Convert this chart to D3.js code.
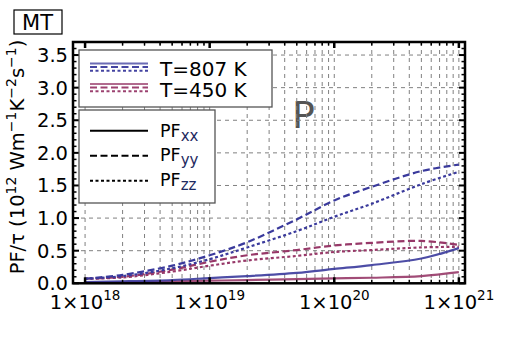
<!DOCTYPE html>
<html>
<head>
<meta charset="utf-8">
<script src="https://cdn.jsdelivr.net/npm/d3@7"></script>
<style>
  body { margin: 0; background: #fff; }
  text { font-family: "DejaVu Sans", sans-serif; }
</style>
</head>
<body>
<svg id="chart" width="525" height="350"></svg>
<script>
// carrier density (cm^-3)
const density = [1e18, 2e18, 5e18, 1e19, 2e19, 5e19, 1e20, 2e20, 5e20, 1e21]

// PF/tau, T = 807 K
const pf807_xx = [0.02, 0.03, 0.05, 0.08, 0.11, 0.16, 0.22, 0.28, 0.38, 0.54]
const pf807_yy = [0.07, 0.13, 0.27, 0.43, 0.63, 0.98, 1.27, 1.48, 1.72, 1.82]
const pf807_zz = [0.07, 0.11, 0.23, 0.37, 0.55, 0.80, 1.02, 1.22, 1.52, 1.71]

// PF/tau, T = 450 K
const pf450_xx = [0.01, 0.015, 0.03, 0.04, 0.05, 0.065, 0.075, 0.085, 0.11, 0.17]
const pf450_yy = [0.07, 0.10, 0.21, 0.33, 0.43, 0.51, 0.58, 0.62, 0.65, 0.59]
const pf450_zz = [0.07, 0.09, 0.18, 0.27, 0.35, 0.42, 0.48, 0.51, 0.55, 0.56]

const y_ticks = [0, 0.5, 1.0, 1.5, 2.0, 2.5, 3.0, 3.5]
const x_decades = [18, 19, 20, 21]

const temp_labels = ['T=807 K', 'T=450 K']
const comp_labels = ['xx', 'yy', 'zz']

const blue = '#3a3a9c'
const plum = '#973868'
const dash_style = { xx: null, yy: '7,3.5', zz: '3,2.5' }

const svg = d3.select('#chart')
const pl = 73, pr = 465, pt = 42, pb = 283.3

const x = d3.scaleLog().domain([8.0e17, 1.12e21]).range([pl, pr])
const y = d3.scaleLinear().domain([0, 3.7]).range([pb, pt])

// minor + major x positions
let x_grid = []
for (let k = 18; k <= 20; k++) {
  for (let m = 1; m <= 9; m++) x_grid.push(m * Math.pow(10, k))
}
x_grid.push(1e21)

// big P label (behind grid)
svg.append('text')
  .attr('x', 292).attr('y', 128)
  .attr('font-size', 38)
  .attr('fill', '#555')
  .text('P')

// grid
const grid = svg.append('g').attr('stroke', '#808080').attr('stroke-width', 1)
  .attr('stroke-dasharray', '4,4')
grid.selectAll('.gx').data(x_grid).join('line')
  .attr('x1', d => x(d)).attr('x2', d => x(d))
  .attr('y1', pt).attr('y2', pb)
grid.selectAll('.gy').data(y_ticks.slice(1)).join('line')
  .attr('x1', pl).attr('x2', pr)
  .attr('y1', d => y(d)).attr('y2', d => y(d))

// curves
svg.append('clipPath').attr('id', 'clip')
  .append('rect').attr('x', pl).attr('y', pt)
  .attr('width', pr - pl).attr('height', pb - pt)

const line = d3.line()
  .x((d, i) => x(density[i]))
  .y(d => y(d))
  .curve(d3.curveCatmullRom.alpha(0.5))

const series = [
  { vals: pf450_xx, color: plum, comp: 'xx' },
  { vals: pf450_zz, color: plum, comp: 'zz' },
  { vals: pf450_yy, color: plum, comp: 'yy' },
  { vals: pf807_xx, color: blue, comp: 'xx' },
  { vals: pf807_zz, color: blue, comp: 'zz' },
  { vals: pf807_yy, color: blue, comp: 'yy' }
]

const curves = svg.append('g').attr('clip-path', 'url(#clip)')
series.forEach(s => {
  curves.append('path')
    .attr('d', line(s.vals))
    .attr('fill', 'none')
    .attr('stroke', s.color)
    .attr('stroke-width', 2.2)
    .attr('stroke-opacity', s.comp == 'xx' ? 0.9 : 1)
    .attr('stroke-dasharray', dash_style[s.comp])
})

// axes ticks (inward)
const axes = svg.append('g').attr('stroke', '#000')
let y_minor = d3.range(0, 37).map(i => i / 10)
y_minor.forEach(v => {
  let major = Math.abs(v * 2 - Math.round(v * 2)) < 1e-6
  let len = major ? 6 : 3.5
  axes.append('line').attr('x1', pl).attr('x2', pl + len)
    .attr('y1', y(v)).attr('y2', y(v)).attr('stroke-width', major ? 2 : 1.5)
  axes.append('line').attr('x1', pr).attr('x2', pr - len)
    .attr('y1', y(v)).attr('y2', y(v)).attr('stroke-width', major ? 2 : 1.5)
})
x_grid.forEach(v => {
  let major = Math.abs(Math.log10(v) - Math.round(Math.log10(v))) < 1e-6
  let len = major ? 6 : 3.5
  axes.append('line').attr('x1', x(v)).attr('x2', x(v))
    .attr('y1', pb).attr('y2', pb - len).attr('stroke-width', major ? 2.5 : 1.5)
  axes.append('line').attr('x1', x(v)).attr('x2', x(v))
    .attr('y1', pt).attr('y2', pt + len).attr('stroke-width', major ? 2.5 : 1.5)
})

// frame
svg.append('rect')
  .attr('x', pl).attr('y', pt)
  .attr('width', pr - pl).attr('height', pb - pt)
  .attr('fill', 'none').attr('stroke', '#000').attr('stroke-width', 2.5)

// tick labels
svg.selectAll('.ylab').data(y_ticks).join('text')
  .attr('x', 68).attr('y', d => y(d) + 7)
  .attr('text-anchor', 'end')
  .attr('font-size', 19.5)
  .text(d => d.toFixed(1))

x_decades.forEach(k => {
  let t = svg.append('text')
    .attr('x', x(Math.pow(10, k))).attr('y', 308.5)
    .attr('text-anchor', 'middle')
    .attr('font-size', 19.5)
  t.append('tspan').text('1×10')
  t.append('tspan').attr('dy', -9).attr('font-size', 13.5).text(k)
})

// y axis title
const yt = svg.append('text')
  .attr('transform', 'translate(24,157) rotate(-90)')
  .attr('text-anchor', 'middle')
  .attr('font-size', 19.5)
yt.append('tspan').text('PF/τ (10')
yt.append('tspan').attr('dy', -8).attr('font-size', 14).text('12')
yt.append('tspan').attr('dy', 8).text(' Wm')
yt.append('tspan').attr('dy', -8).attr('font-size', 14).text('−1')
yt.append('tspan').attr('dy', 8).text('K')
yt.append('tspan').attr('dy', -8).attr('font-size', 14).text('−2')
yt.append('tspan').attr('dy', 8).text('s')
yt.append('tspan').attr('dy', -8).attr('font-size', 14).text('−1')
yt.append('tspan').attr('dy', 8).text(')')

// MT tag
svg.append('rect').attr('x', 14).attr('y', 10).attr('width', 48).attr('height', 24)
  .attr('fill', '#fff').attr('stroke', '#000').attr('stroke-width', 1.2)
svg.append('text').attr('x', 37.5).attr('y', 29.5).attr('text-anchor', 'middle')
  .attr('font-size', 21).text('MT')

// legend 1: temperatures
svg.append('rect').attr('x', 79).attr('y', 50).attr('width', 193).attr('height', 57)
  .attr('fill', '#fff').attr('stroke', '#555').attr('stroke-width', 1.3)
const leg_colors = [blue, plum]
temp_labels.forEach((lab, i) => {
  let y0 = 63.5 + i * 20.5
  comp_labels.forEach((c, j) => {
    svg.append('line').attr('x1', 90).attr('x2', 148)
      .attr('y1', y0 + j * 3.6).attr('y2', y0 + j * 3.6)
      .attr('stroke', leg_colors[i]).attr('stroke-width', 2)
      .attr('stroke-opacity', c == 'xx' ? 0.75 : 0.95)
      .attr('stroke-dasharray', dash_style[c])
  })
  svg.append('text').attr('x', 160).attr('y', 76 + i * 20.5)
    .attr('font-size', 20).text(lab)
})

// legend 2: tensor components
svg.append('rect').attr('x', 79).attr('y', 110).attr('width', 136).attr('height', 93)
  .attr('fill', '#fff').attr('stroke', '#555').attr('stroke-width', 1.3)
comp_labels.forEach((c, i) => {
  let ly = 130.7 + i * 25
  svg.append('line').attr('x1', 90).attr('x2', 148)
    .attr('y1', ly).attr('y2', ly)
    .attr('stroke', '#000').attr('stroke-width', 2)
    .attr('stroke-dasharray', dash_style[c])
  let t = svg.append('text').attr('x', 160).attr('y', 137 + i * 24.3)
    .attr('font-size', 17.5)
  t.append('tspan').text('PF')
  t.append('tspan').attr('dy', 4).attr('font-size', 15).attr('fill', '#1e2a60').text(c)
})
</script>
</body>
</html>
